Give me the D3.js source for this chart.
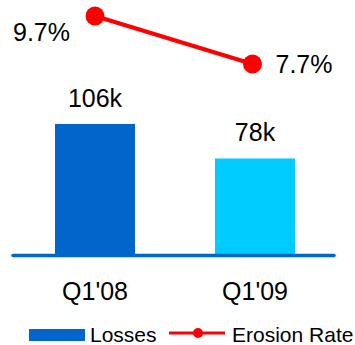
<!DOCTYPE html>
<html>
<head>
<meta charset="utf-8">
<script src="https://cdn.jsdelivr.net/npm/d3@7"></script>
<style>
  body { margin: 0; background: #fff; }
  text { font-family: "Liberation Sans", Arial, sans-serif; fill: #000; }
</style>
</head>
<body>
<div id="chart"></div>
<script>
// data
var quarters = ["Q1'08", "Q1'09"];
var losses = [106, 78];
var lossLabels = ["106k", "78k"];
var erosion = [9.7, 7.7];
var erosionLabels = ["9.7%", "7.7%"];
var barColors = ["#0066CC", "#00CCFF"];

var width = 355, height = 345;

var svg = d3.select("#chart").append("svg")
    .attr("width", width)
    .attr("height", height);

// scales
var x = d3.scaleBand()
    .domain(quarters)
    .range([15, 335])
    .paddingInner(0.5)
    .paddingOuter(0.25);

var base = 254.5;
var y = d3.scaleLinear()
    .domain([0, 106])
    .range([base, 124]);

var y2 = d3.scaleLinear()
    .domain([0, 10])
    .range([248.8, 8.8]);

// bars
svg.selectAll(".bar")
    .data(losses)
  .enter().append("rect")
    .attr("class", "bar")
    .attr("x", function(d, i) { return x(quarters[i]); })
    .attr("width", x.bandwidth())
    .attr("y", function(d) { return y(d); })
    .attr("height", function(d) { return base - y(d); })
    .attr("fill", function(d, i) { return barColors[i]; });

// bar labels
svg.selectAll(".barlabel")
    .data(losses)
  .enter().append("text")
    .attr("class", "barlabel")
    .attr("x", function(d, i) { return x(quarters[i]) + x.bandwidth() / 2; })
    .attr("y", function(d) { return y(d) - 17; })
    .attr("text-anchor", "middle")
    .style("font-size", "25px")
    .text(function(d, i) { return lossLabels[i]; });

// baseline
svg.append("line")
    .attr("x1", 13).attr("x2", 334)
    .attr("y1", base + 1).attr("y2", base + 1)
    .attr("stroke", "#0066CC")
    .attr("stroke-width", 3.5)
    .attr("stroke-linecap", "round");

// x axis labels
svg.append("g")
    .attr("transform", "translate(0," + 300 + ")")
    .call(d3.axisBottom(x).tickSize(0).tickPadding(0))
    .call(function(g) { g.select(".domain").remove(); })
    .selectAll("text")
    .attr("dy", 0)
    .attr("y", 0)
    .style("font-size", "25px")
    .style("font-family", '"Liberation Sans", Arial, sans-serif')
    .attr("fill", "#000");

// erosion line
var cx = function(d, i) { return x(quarters[i]) + x.bandwidth() / 2 - (i == 1 ? 2.5 : 0); };
var line = d3.line()
    .x(function(d, i) { return cx(d, i); })
    .y(function(d) { return y2(d); });

svg.append("path")
    .datum(erosion)
    .attr("d", line)
    .attr("fill", "none")
    .attr("stroke", "#FF0000")
    .attr("stroke-width", 4);

svg.selectAll(".pt")
    .data(erosion)
  .enter().append("circle")
    .attr("class", "pt")
    .attr("cx", cx)
    .attr("cy", function(d) { return y2(d); })
    .attr("r", 9.5)
    .attr("fill", "#FF0000");

svg.selectAll(".ptlabel")
    .data(erosion)
  .enter().append("text")
    .attr("class", "ptlabel")
    .attr("x", function(d, i) { return i == 0 ? cx(d, i) - 25 : cx(d, i) + 23; })
    .attr("y", function(d, i) { return y2(d) + (i == 0 ? 25 : 9); })
    .attr("text-anchor", function(d, i) { return i == 0 ? "end" : "start"; })
    .style("font-size", "25px")
    .text(function(d, i) { return erosionLabels[i]; });

// legend
var legend = svg.append("g");
legend.append("rect")
    .attr("x", 29).attr("y", 329)
    .attr("width", 56).attr("height", 12)
    .attr("fill", "#0066CC");
legend.append("text")
    .attr("x", 90).attr("y", 342)
    .style("font-size", "21px")
    .text("Losses");
legend.append("line")
    .attr("x1", 169).attr("x2", 225)
    .attr("y1", 333).attr("y2", 333)
    .attr("stroke", "#FF0000")
    .attr("stroke-width", 3);
legend.append("circle")
    .attr("cx", 198).attr("cy", 333)
    .attr("r", 5)
    .attr("fill", "#FF0000");
legend.append("text")
    .attr("x", 232).attr("y", 342)
    .style("font-size", "21px")
    .text("Erosion Rate");
</script>
</body>
</html>
